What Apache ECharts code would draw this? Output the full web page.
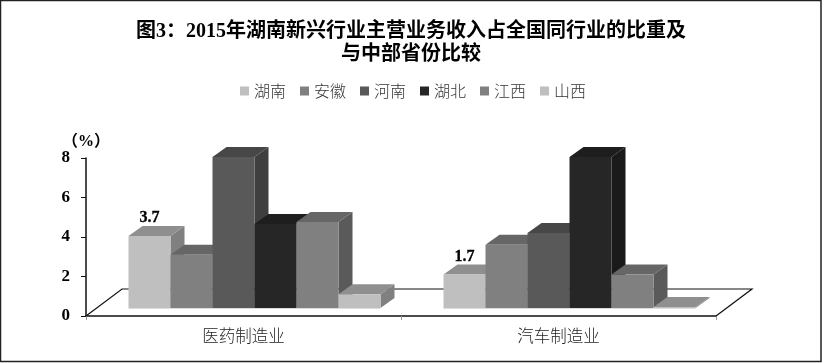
<!DOCTYPE html>
<html><head><meta charset="utf-8">
<style>html,body{margin:0;padding:0;background:#fff}#c{width:824px;height:363px}</style>
<script src="https://cdn.jsdelivr.net/npm/echarts@6/dist/echarts.min.js"></script>
</head><body><div id="c"></div>
<script>
const titleText = '图3：2015年湖南新兴行业主营业务收入占全国同行业的比重及\n与中部省份比较';
const categories = ['医药制造业', '汽车制造业'];
const hunan = [3.65, 1.7];
const anhui = [2.7, 3.2];
const henan = [7.65, 3.8];
const hubei = [4.25, 7.65];
const jiangxi = [4.35, 1.7];
const shanxi = [0.7, 0.05];
const hunanLabels = ['3.7', '1.7'];
const yTicks = [0, 8, 2];

const names = ['湖南', '安徽', '河南', '湖北', '江西', '山西'];
const values = [hunan, anhui, henan, hubei, jiangxi, shanxi];
const front = ['#bfbfbf', '#808080', '#595959', '#262626', '#808080', '#bfbfbf'];
const topFace = ['#8f8f8f', '#666666', '#474747', '#1e1e1e', '#666666', '#8f8f8f'];
const sideFace = ['#808080', '#5a5a5a', '#3f3f3f', '#1a1a1a', '#5a5a5a', '#808080'];
const serif = '"Liberation Serif","Noto Sans CJK SC"';
const cjk = '"Noto Sans CJK SC"';
const FLOOR_DX = 36, FLOOR_DY = 27, BASE_DX = 11, BASE_DY = 8, DEPTH_DX = 14, DEPTH_DY = 10;
const BAR_SHARE = 0.8;

function poly(points, fill) {
  return { type: 'polygon', shape: { points }, style: { fill, stroke: null } };
}
function barRenderer(si) {
  return function (params, api) {
    const cat = api.value(0), v = api.value(1);
    const base = api.coord([cat, 0]), topPt = api.coord([cat, v]);
    const band = api.size([1, 0])[0];
    const w = band * BAR_SHARE / names.length;
    const x0 = base[0] + BASE_DX - band * BAR_SHARE / 2 + si * w;
    const x1 = x0 + w, yb = base[1] - BASE_DY, yt = topPt[1] - BASE_DY;
    const ch = [
      poly([[x1, yb], [x1 + DEPTH_DX, yb - DEPTH_DY], [x1 + DEPTH_DX, yt - DEPTH_DY], [x1, yt]], sideFace[si]),
      poly([[x0, yt], [x0 + DEPTH_DX, yt - DEPTH_DY], [x1 + DEPTH_DX, yt - DEPTH_DY], [x1, yt]], topFace[si]),
      { type: 'rect', shape: { x: x0, y: yt, width: w, height: yb - yt }, style: { fill: front[si] } },
      { type: 'rect', shape: { x: x0, y: yb, width: w, height: 1 }, style: { fill: '#dcdcdc' } }
    ];
    if (si === 0) {
      ch.push({ type: 'text', style: { text: hunanLabels[cat], x: (x0 + x1) / 2, y: yt - 18, align: 'center', verticalAlign: 'middle',
        font: 'bold 16px ' + serif, fill: '#000', stroke: '#000', lineWidth: 0.3 } });
    }
    return { type: 'group', children: ch };
  };
}
function floorRenderer(params, api) {
  const a = api.coord([0, 0]), band = api.size([1, 0])[0];
  const L = a[0] - band / 2, R = L + band * categories.length, y = a[1];
  return { type: 'polyline', shape: { points: [[L, y], [L + FLOOR_DX, y - FLOOR_DY], [R + FLOOR_DX, y - FLOOR_DY], [R, y]] },
    style: { fill: null, stroke: '#111', lineWidth: 1.2 } };
}
const series = [{ type: 'custom', name: 'floor', silent: true, z: 1, data: [[0, 0]], renderItem: floorRenderer,
  encode: { x: 0, y: 1 }, clip: false }];
names.forEach((n, si) => {
  series.push({ type: 'custom', name: n, z: 2 + si, clip: false, itemStyle: { color: front[si] },
    data: values[si].map((v, i) => [i, v]), encode: { x: 0, y: 1 }, renderItem: barRenderer(si) });
});
const chart = echarts.init(document.getElementById('c'), null, { renderer: 'canvas' });
chart.setOption({
  animation: false, backgroundColor: '#fff',
  title: { text: titleText, left: 406, top: 15, textAlign: 'center',
    textStyle: { fontFamily: serif, fontWeight: 'bold', fontSize: 20, lineHeight: 23, color: '#000', align: 'center' } },
  legend: { data: names, top: 78, left: 235, icon: 'rect', itemWidth: 9, itemHeight: 9, itemGap: 14,
    textStyle: { fontFamily: cjk, fontSize: 16, fontWeight: 300, color: '#333' } },
  grid: { left: 86, right: 108, top: 158, bottom: 47 },
  xAxis: { type: 'category', data: categories,
    axisLine: { lineStyle: { color: '#111', width: 1.5 } },
    axisTick: { show: true, alignWithLabel: false, length: 4, lineStyle: { color: '#999' } },
    axisLabel: { fontFamily: cjk, fontSize: 16.5, fontWeight: 300, color: '#222', margin: 11 } },
  yAxis: { type: 'value', min: yTicks[0], max: yTicks[1], interval: yTicks[2],
    name: '（%）', nameLocation: 'end', nameGap: 8,
    nameTextStyle: { fontFamily: serif, fontWeight: 'bold', fontSize: 16, color: '#000', align: 'center' },
    splitLine: { show: false },
    axisLine: { show: true, lineStyle: { color: '#111', width: 1.5 } },
    axisTick: { show: true, length: 5, lineStyle: { color: '#111' } },
    axisLabel: { fontFamily: serif, fontWeight: 'bold', fontSize: 17, color: '#000', margin: 16 } },
  graphic: [{ type: 'rect', silent: true, z: 100, shape: { x: 0.5, y: 0.5, width: 820.5, height: 361 },
    style: { fill: null, stroke: '#222', lineWidth: 1.5 } }],
  series
});
</script></body></html>
